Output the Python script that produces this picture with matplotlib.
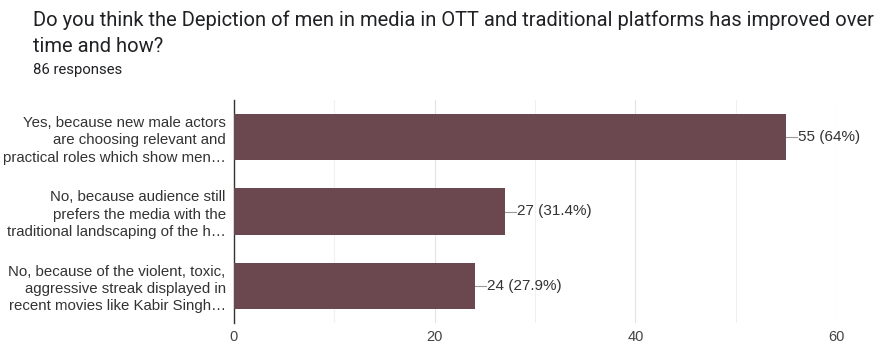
import matplotlib.pyplot as plt
import numpy as np

# Datos de la encuesta
categorias = [
    "Yes, because new male actors\nare choosing relevant and\npractical roles which show men\u2026",
    "No, because audience still\nprefers the media with the\ntraditional landscaping of the h\u2026",
    "No, because of the violent, toxic,\naggressive streak displayed in\nrecent movies like Kabir Singh\u2026",
]
respuestas = [55, 27, 24]
etiquetas = ["55 (64%)", "27 (31.4%)", "24 (27.9%)"]
ticks_x = [0, 20, 40, 60]

color_barra = '#6b4750'

fig = plt.figure(figsize=(8.81, 3.44), dpi=100)
ax = fig.add_axes([234 / 881, 1 - 323 / 344, (836 - 234) / 881, (323 - 100) / 344])

y = np.arange(len(categorias))
ax.barh(y, respuestas, height=0.62, color=color_barra, zorder=3)

# Etiquetas con linea guia
for yi, val, txt in zip(y, respuestas, etiquetas):
    ax.plot([val, val + 1.1], [yi, yi], color='#999999', lw=0.8, zorder=3)
    ax.text(val + 1.2, yi, txt, va='center', ha='left', fontsize=11,
            family='Liberation Sans', color='#333333')

ax.set_ylim(len(categorias) - 0.5, -0.5)
ax.set_xlim(0, 60)
ax.set_xticks(ticks_x)
ax.set_xticks(np.arange(0, 61, 10), minor=True)
ax.grid(True, axis='x', which='major', color='#e3e3e3', lw=0.8, zorder=0)
ax.grid(True, axis='x', which='minor', color='#f0f0f0', lw=0.8, zorder=0)
ax.set_yticks(y)
ax.set_yticklabels(categorias, fontsize=10.8, family='Liberation Sans',
                   color='#333333', linespacing=1.3)
ax.tick_params(axis='both', which='both', length=0)
ax.tick_params(axis='y', pad=6)
ax.tick_params(axis='x', pad=5, labelsize=10.5, labelcolor='#444444')
for lbl in ax.get_xticklabels():
    lbl.set_family('Liberation Sans')

for s in ['top', 'right', 'bottom']:
    ax.spines[s].set_visible(False)
ax.spines['left'].set_color('#333333')
ax.spines['left'].set_linewidth(1.0)

fig.text(33 / 881, 1 - 20 / 344,
         "Do you think the Depiction of men in media in OTT and traditional platforms has improved over",
         fontsize=14.5, family='Roboto', color='#202124', va='center')
fig.text(33 / 881, 1 - 47 / 344, "time and how?",
         fontsize=14.5, family='Roboto', color='#202124', va='center')
fig.text(33 / 881, 1 - 70 / 344, "86 responses",
         fontsize=10.7, family='Roboto', color='#202124', va='center')

fig.savefig('out.png', dpi=100)
